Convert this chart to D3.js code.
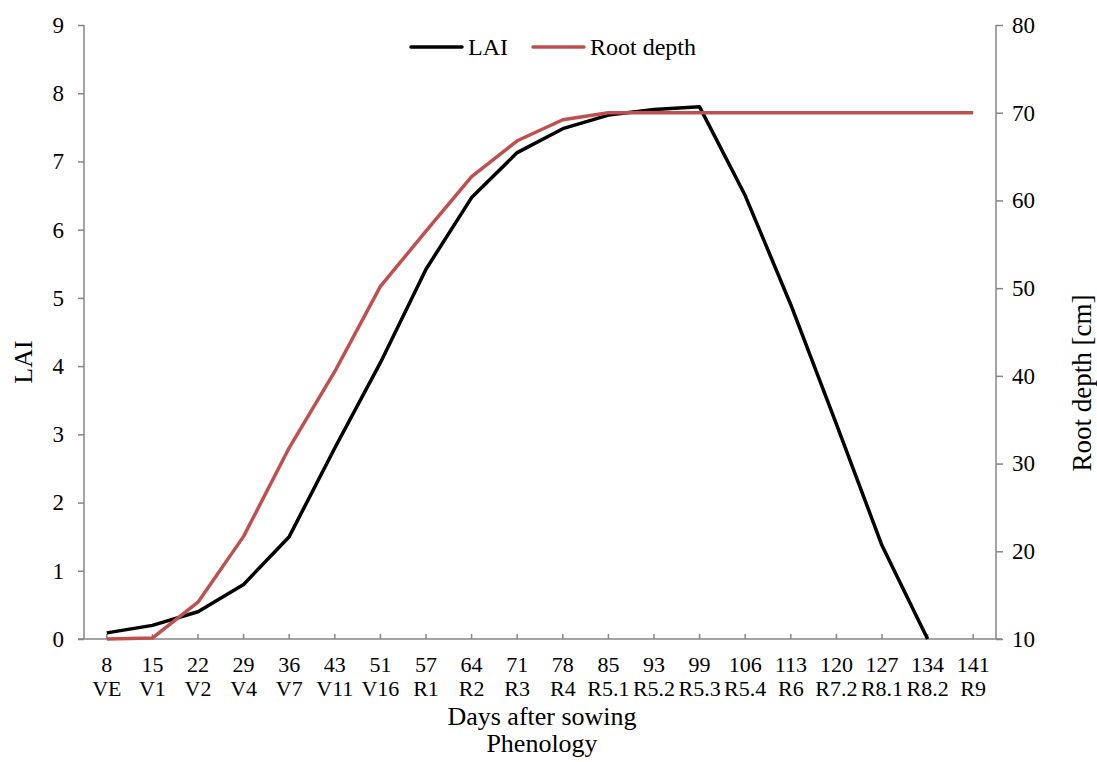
<!DOCTYPE html>
<html>
<head>
<meta charset="utf-8">
<script src="https://cdn.jsdelivr.net/npm/d3@7"></script>
<style>
  body { margin: 0; background: #fff; }
  svg text { font-family: "Liberation Serif", "Times New Roman", serif; fill: #000; }
</style>
</head>
<body>
<div id="chart"></div>
<script>
// days after sowing and phenology stage for each category
const days = [8, 15, 22, 29, 36, 43, 51, 57, 64, 71, 78, 85, 93, 99, 106, 113, 120, 127, 134, 141];
const stages = ['VE', 'V1', 'V2', 'V4', 'V7', 'V11', 'V16', 'R1', 'R2', 'R3', 'R4',
  'R5.1', 'R5.2', 'R5.3', 'R5.4', 'R6', 'R7.2', 'R8.1', 'R8.2', 'R9'];

// LAI (left axis) - no value at day 141
const lai = [0.09, 0.2, 0.4, 0.8, 1.5, 2.8, 4.05, 5.42, 6.47, 7.13, 7.48, 7.68, 7.76, 7.8,
  6.5, 4.9, 3.15, 1.37, 0, null];
// root depth in cm (right axis)
const rootDepth = [10, 10.1, 14.2, 21.7, 31.8, 40.5, 50.2, 56.5, 62.7, 66.8, 69.2, 70, 70, 70,
  70, 70, 70, 70, 70, 70];

const laiTicks = d3.range(0, 10);
const rootTicks = d3.range(10, 90, 10);

const width = 1097, height = 762;
const margin = {top: 25, right: 101, bottom: 123, left: 84};
const axisColor = '#868686';

const svg = d3.select('#chart').append('svg')
  .attr('width', width).attr('height', height);

const x = d3.scaleBand()
  .domain(d3.range(days.length))
  .range([margin.left, width - margin.right]);

const yL = d3.scaleLinear().domain([0, 9]).range([height - margin.bottom, margin.top]);
const yR = d3.scaleLinear().domain([10, 80]).range([height - margin.bottom, margin.top]);

const cx = i => x(i) + x.bandwidth() / 2;
const bottom = height - margin.bottom;

// x axis line + inward ticks at category centres
const gx = svg.append('g');
gx.append('line')
  .attr('x1', margin.left - 6).attr('x2', width - margin.right + 6)
  .attr('y1', bottom).attr('y2', bottom)
  .attr('stroke', axisColor).attr('stroke-width', 1.5);
gx.selectAll('.xt').data(days).enter().append('line')
  .attr('x1', (d, i) => cx(i)).attr('x2', (d, i) => cx(i))
  .attr('y1', bottom).attr('y2', bottom - 5)
  .attr('stroke', axisColor).attr('stroke-width', 1.5);
gx.selectAll('.dl').data(days).enter().append('text')
  .attr('x', (d, i) => cx(i)).attr('y', bottom + 33)
  .attr('text-anchor', 'middle').attr('font-size', 22)
  .text(d => d);
gx.selectAll('.sl').data(stages).enter().append('text')
  .attr('x', (d, i) => cx(i)).attr('y', bottom + 57)
  .attr('text-anchor', 'middle').attr('font-size', 22)
  .text(d => d);

// left axis
const gl = svg.append('g').attr('transform', `translate(${margin.left},0)`)
  .call(d3.axisLeft(yL).tickValues(laiTicks).tickSize(6).tickPadding(14));
gl.selectAll('path, line').attr('stroke', axisColor).attr('stroke-width', 1.5);
gl.select('.domain').attr('d', `M0,${yL(9)}V${yL(0)}`);
gl.selectAll('text').attr('font-size', 23).attr('font-family', '"Liberation Serif", serif').attr('fill', '#000');

// right axis
const gr = svg.append('g').attr('transform', `translate(${width - margin.right},0)`)
  .call(d3.axisRight(yR).tickValues(rootTicks).tickSize(7).tickPadding(9));
gr.selectAll('path, line').attr('stroke', axisColor).attr('stroke-width', 1.5);
gr.select('.domain').attr('d', `M0,${yR(80)}V${yR(10)}`);
gr.selectAll('text').attr('font-size', 23).attr('font-family', '"Liberation Serif", serif').attr('fill', '#000');

// lines
const laiLine = d3.line()
  .defined(d => d != null)
  .x((d, i) => cx(i)).y(d => yL(d));
const rootLine = d3.line()
  .x((d, i) => cx(i)).y(d => yR(d));

svg.append('path').datum(lai)
  .attr('d', laiLine).attr('fill', 'none')
  .attr('stroke', '#000').attr('stroke-width', 3.5).attr('stroke-linejoin', 'round');
svg.append('path').datum(rootDepth)
  .attr('d', rootLine).attr('fill', 'none')
  .attr('stroke', '#c0504d').attr('stroke-width', 3.5).attr('stroke-linejoin', 'round');

// axis titles
svg.append('text')
  .attr('transform', 'translate(32,362) rotate(-90)')
  .attr('text-anchor', 'middle').attr('font-size', 26).text('LAI');
svg.append('text')
  .attr('transform', 'translate(1091,383) rotate(-90)')
  .attr('text-anchor', 'middle').attr('font-size', 27).text('Root depth [cm]');
svg.append('text')
  .attr('x', 542).attr('y', 725)
  .attr('text-anchor', 'middle').attr('font-size', 26).text('Days after sowing');
svg.append('text')
  .attr('x', 542).attr('y', 752)
  .attr('text-anchor', 'middle').attr('font-size', 26).text('Phenology');

// legend
const legend = [
  {name: 'LAI', color: '#000', x: 411},
  {name: 'Root depth', color: '#c0504d', x: 533}
];
const lg = svg.selectAll('.leg').data(legend).enter().append('g');
lg.append('line')
  .attr('x1', d => d.x).attr('x2', d => d.x + 51)
  .attr('y1', 47).attr('y2', 47)
  .attr('stroke', d => d.color).attr('stroke-width', 3.5).attr('stroke-linecap', 'round');
lg.append('text')
  .attr('x', d => d.x + 57).attr('y', 55)
  .attr('font-size', 24).text(d => d.name);
</script>
</body>
</html>
